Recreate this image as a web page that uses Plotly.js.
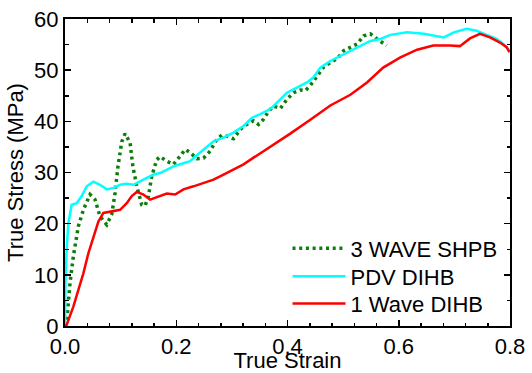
<!DOCTYPE html>
<html>
<head>
<meta charset="utf-8">
<script src="https://cdn.plot.ly/plotly-3.0.1.min.js"></script>
<style>html,body{margin:0;padding:0;background:#fff;}#chart{width:532px;height:373px;}</style>
</head>
<body>
<div id="chart"></div>
<script>
const shpbStrain = [0.0, 0.003, 0.009, 0.015, 0.024, 0.033, 0.045, 0.054, 0.063, 0.075, 0.084, 0.09, 0.095, 0.102, 0.108, 0.117, 0.122, 0.129, 0.138, 0.144, 0.150, 0.156, 0.165, 0.171, 0.183, 0.195, 0.207, 0.216, 0.225, 0.237, 0.249, 0.261, 0.273, 0.282, 0.291, 0.303, 0.315, 0.327, 0.339, 0.348, 0.357, 0.366, 0.375, 0.387, 0.399, 0.411, 0.423, 0.432, 0.441, 0.453, 0.465, 0.477, 0.489, 0.501, 0.513, 0.525, 0.537, 0.549, 0.561, 0.569, 0.578];
const shpbStress = [0.0, 0.6, 8.4, 13.6, 19.5, 22.7, 25.7, 24.7, 21.4, 19.8, 21.8, 26.0, 31.0, 36.0, 37.6, 35.8, 31.2, 27.3, 23.7, 23.5, 25.4, 29.3, 32.5, 33.1, 32.2, 31.6, 33.2, 34.5, 33.9, 32.7, 32.8, 34.2, 36.5, 37.3, 37.1, 36.6, 38.4, 39.4, 40.1, 39.4, 40.4, 42.0, 43.0, 42.5, 44.3, 45.6, 46.1, 46.0, 47.0, 48.9, 50.6, 51.5, 52.2, 53.8, 54.5, 55.1, 56.7, 57.1, 56.1, 55.4, 54.8];

const pdvStrain = [0.0, 0.001, 0.003, 0.006, 0.012, 0.021, 0.030, 0.039, 0.051, 0.063, 0.075, 0.087, 0.099, 0.111, 0.123, 0.135, 0.147, 0.159, 0.171, 0.183, 0.195, 0.207, 0.225, 0.243, 0.267, 0.285, 0.303, 0.321, 0.336, 0.351, 0.369, 0.387, 0.399, 0.417, 0.435, 0.447, 0.459, 0.477, 0.495, 0.513, 0.531, 0.549, 0.567, 0.585, 0.615, 0.645, 0.681, 0.699, 0.722, 0.740, 0.758, 0.776, 0.788, 0.799];
const pdvStress = [0.0, 9.7, 14.9, 20.1, 23.7, 24.0, 25.4, 27.3, 28.2, 27.6, 26.7, 27.0, 27.6, 27.8, 27.6, 28.3, 29.0, 29.6, 29.9, 30.6, 31.2, 31.6, 32.2, 33.9, 36.1, 36.8, 37.8, 39.1, 40.7, 41.4, 42.4, 44.3, 45.6, 46.6, 47.6, 48.6, 50.5, 51.8, 52.8, 53.8, 54.8, 55.7, 56.1, 56.9, 57.4, 57.1, 56.4, 57.4, 58.1, 57.7, 56.9, 56.1, 55.1, 53.8];

const waveStrain = [0.0, 0.003, 0.015, 0.024, 0.033, 0.042, 0.051, 0.060, 0.069, 0.087, 0.099, 0.111, 0.120, 0.129, 0.141, 0.153, 0.171, 0.183, 0.198, 0.213, 0.231, 0.249, 0.267, 0.285, 0.303, 0.321, 0.339, 0.369, 0.405, 0.441, 0.477, 0.513, 0.543, 0.572, 0.603, 0.633, 0.662, 0.692, 0.710, 0.728, 0.746, 0.764, 0.782, 0.794, 0.799];
const waveStress = [0.0, 0.2, 3.8, 7.1, 10.3, 14.2, 17.5, 20.4, 22.1, 22.4, 22.7, 24.0, 25.4, 26.2, 25.7, 24.7, 25.4, 25.9, 25.7, 26.7, 27.3, 28.0, 28.6, 29.6, 30.6, 31.6, 32.9, 35.0, 37.6, 40.3, 43.1, 45.2, 47.6, 50.5, 52.5, 54.0, 54.8, 54.8, 54.7, 56.2, 57.1, 56.4, 55.4, 54.5, 53.5];

const seriesNames = ['3 WAVE SHPB', 'PDV DIHB', '1 Wave DIHB'];

const font = {family: 'Liberation Sans, Arial, sans-serif', color: '#000'};
const fs = 22;

const traces = [
  {x: shpbStrain, y: shpbStress, name: seriesNames[0], mode: 'lines', legend: 'legend',
   line: {color: '#0a7d0a', width: 3.5, dash: '3px,3.7px'}},
  {x: pdvStrain, y: pdvStress, name: seriesNames[1], mode: 'lines', legend: 'legend2',
   line: {color: '#00ffff', width: 2.5}},
  {x: waveStrain, y: waveStress, name: seriesNames[2], mode: 'lines', legend: 'legend3',
   line: {color: '#ff0000', width: 2.5}}
];

const axisCommon = {
  showline: true, linecolor: '#000', linewidth: 2, mirror: 'ticks',
  ticks: 'inside', ticklen: 6, tickwidth: 1.5, tickcolor: '#000',
  showgrid: false, zeroline: false,
  tickfont: Object.assign({size: fs}, font)
};

function legendAt(yy) {
  return {x: 0.5, y: yy, xanchor: 'left', yanchor: 'top',
          bgcolor: 'rgba(0,0,0,0)', borderwidth: 0,
          font: Object.assign({size: fs}, font), itemwidth: 53, tracegroupgap: 0};
}

const layout = {
  width: 532, height: 373,
  margin: {l: 65, r: 22, t: 19, b: 47},
  paper_bgcolor: '#fff', plot_bgcolor: '#fff',
  font: font,
  showlegend: true,
  legend: legendAt(0.321),
  legend2: legendAt(0.230),
  legend3: legendAt(0.141),
  xaxis: Object.assign({}, axisCommon, {
    range: [0, 0.8], tick0: 0, dtick: 0.2, tickformat: '.1f',
    minor: {dtick: 0.04, ticks: 'inside', ticklen: 3.5, tickwidth: 1.5, tickcolor: '#000', showgrid: false},
    title: {text: 'True Strain', font: Object.assign({size: fs}, font), standoff: 5}
  }),
  yaxis: Object.assign({}, axisCommon, {
    range: [0, 60], tick0: 0, dtick: 10,
    minor: {dtick: 5, ticks: 'inside', ticklen: 3.5, tickwidth: 1.5, tickcolor: '#000', showgrid: false},
    title: {text: 'True Stress (MPa)', font: Object.assign({size: fs}, font), standoff: 4}
  })
};

Plotly.newPlot('chart', traces, layout, {displayModeBar: false, staticPlot: true});
</script>
</body>
</html>
